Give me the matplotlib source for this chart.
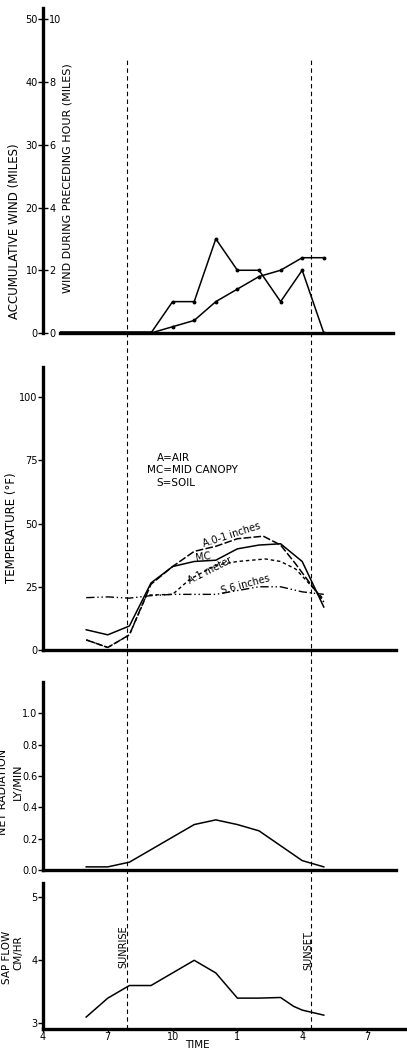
import matplotlib
matplotlib.use("Agg")
import matplotlib.pyplot as plt

# --- Data (time as hour of day, 24 h clock) -------------------------------
sunrise = 7.9
sunset = 16.4

wind_hours = [9, 10, 11, 12, 13, 14, 15, 16, 17]
wind_hourly = [0, 1, 1, 3, 2, 2, 1, 2, 0]      # miles during preceding hour
wind_cum = [0, 1, 2, 5, 7, 9, 10, 12, 12]      # accumulative miles

mc_hours = [6, 7, 8, 9, 10, 11, 12, 13, 14, 15, 16, 17]
mc_temp = [8, 6, 9.5, 26.5, 33, 35, 35.5, 40, 41.5, 42, 35, 17]

air01_hours = [6, 7, 7.6, 8, 9, 10, 11, 12, 13, 14.2, 15, 15.7, 17]
air01_temp = [4, 1, 4, 6, 26, 33, 39, 41, 44, 45, 41.5, 34, 19]

air1m_hours = [6, 7, 7.6, 8, 8.8, 10, 10.8, 12, 13, 14.3, 15, 15.7, 17]
air1m_temp = [4, 1, 4, 6, 21.7, 22, 28, 33.5, 35, 36, 35, 32, 20]

soil_hours = [6, 7, 8, 9, 10, 11, 12, 13, 14, 15, 16, 17]
soil_temp = [20.7, 21, 20.5, 21.5, 22, 22, 22, 23.5, 25, 25, 23, 22]

rad_hours = [6, 7, 8, 9, 10, 11, 12, 13, 14, 15, 16, 17]
net_rad = [0.02, 0.02, 0.05, 0.13, 0.21, 0.29, 0.32, 0.29, 0.25, 0.155, 0.06, 0.02]

sap_hours = [6, 7, 8, 9, 10, 11, 12, 13, 14, 15, 15.6, 16, 17]
sap_flow = [3.1, 3.4, 3.6, 3.6, 3.8, 4.0, 3.8, 3.4, 3.4, 3.41, 3.27, 3.21, 3.13]

time_ticks = [4, 7, 10, 13, 16, 19]
time_labels = ["4", "7", "10", "1", "4", "7"]

# --- Layout (pixels of the 407 x 1048 output) -----------------------------
W, H = 407, 1048
X_LEFT = 43        # pixel of the y spines
PX_HR = 21.6       # pixels per hour
HR0 = 4            # hour at the y spines

plt.rcParams["font.family"] = ["DejaVu Sans"]
fig = plt.figure(figsize=(W / 100, H / 100), dpi=100)


def panel(top, bottom, right, ylim):
    ax = fig.add_axes([X_LEFT / W, 1 - bottom / H,
                       (right - X_LEFT) / W, (bottom - top) / H])
    ax.set_xlim(HR0, HR0 + (right - X_LEFT) / PX_HR)
    ax.set_ylim(*ylim)
    for side in ("top", "right"):
        ax.spines[side].set_visible(False)
    for side in ("left", "bottom"):
        ax.spines[side].set_linewidth(2.4)
    ax.set_xticks([])
    ax.tick_params(axis="y", labelsize=7, width=1.0, length=3.5, pad=0.5)
    return ax


def ftext(px, py, s, **kw):
    fig.text(px / W, 1 - py / H, s, ha="center", va="center", **kw)


# --- Wind ---------------------------------------------------------------
ax1 = panel(8, 333, 396, (0, 51.8))
ax1.spines["bottom"].set_bounds(4.8, 20.2)
ax1.set_yticks([0, 10, 20, 30, 40, 50])
ax1.tick_params(axis="y", direction="inout", length=6.5)

# second scale drawn on the same spine, labels to its right
ax1b = ax1.twinx()
ax1b.set_ylim(0, 51.8 / 5)
for side in ("top", "left", "bottom", "right"):
    ax1b.spines[side].set_visible(False)
ax1b.spines["right"].set_position(("axes", 0))
ax1b.set_yticks([0, 2, 4, 6, 8, 10])
ax1b.tick_params(axis="y", length=0, pad=4.5, labelsize=7)

ax1b.plot(wind_hours, wind_hourly, color="k", lw=1.1, marker="o", ms=1.8)
ax1.plot(wind_hours, wind_cum, color="k", lw=1.1, marker="o", ms=1.8)
ax1.plot([4.8, 9], [0, 0], color="k", lw=2.6, solid_capstyle="butt")

ftext(15, 231, "ACCUMULATIVE WIND (MILES)", rotation=90, fontsize=8.5)
ftext(67, 178, "WIND DURING PRECEDING HOUR (MILES)", rotation=90, fontsize=8)

# --- Temperature ----------------------------------------------------------
ax2 = panel(367, 650, 396, (0, 111.9))
ax2.set_yticks([0, 25, 50, 75, 100])
ax2.plot(mc_hours, mc_temp, color="k", lw=1.1)
ax2.plot(air01_hours, air01_temp, color="k", lw=1.1, ls=(0, (5, 1.5)))
ax2.plot(air1m_hours, air1m_temp, color="k", lw=1.0, ls=(0, (2.5, 2)))
ax2.plot(soil_hours, soil_temp, color="k", lw=1.0, ls=(0, (6, 2, 1, 2, 1, 2)))

ax2.text(12.75, 45.5, "A.0-1 inches", fontsize=7, rotation=18, ha="center", va="center")
ax2.text(11.4, 36.8, "MC", fontsize=7, rotation=8, ha="center", va="center")
ax2.text(11.73, 31.6, "A.1 meter", fontsize=7, rotation=27, ha="center", va="center")
ax2.text(13.35, 26.0, "S.6 inches", fontsize=7, rotation=15, ha="center", va="center")
ax2.text(9.28, 76, "A=AIR", fontsize=7.5, va="center")
ax2.text(8.81, 71.1, "MC=MID CANOPY", fontsize=7.5, va="center")
ax2.text(9.23, 65.9, "S=SOIL", fontsize=7.5, va="center")

ftext(12, 528, "TEMPERATURE (°F)", rotation=90, fontsize=8.5)

# --- Net radiation --------------------------------------------------------
ax3 = panel(682, 870, 396, (0, 1.2))
ax3.set_yticks([0.0, 0.2, 0.4, 0.6, 0.8, 1.0])
ax3.set_yticklabels([f"{v:.1f}" for v in [0.0, 0.2, 0.4, 0.6, 0.8, 1.0]])
ax3.plot(rad_hours, net_rad, color="k", lw=1.1)
ftext(3, 792, "NET RADIATION", rotation=90, fontsize=8)
ftext(18, 782, "LY/MIN", rotation=90, fontsize=8)

# --- Sap flow -------------------------------------------------------------
ax4 = panel(883, 1029, 407, (2.91, 5.227))
ax4.set_yticks([3, 4, 5])
ax4.plot(sap_hours, sap_flow, color="k", lw=1.1)
ax4.set_xticks(time_ticks)
ax4.set_xticklabels(time_labels)
ax4.tick_params(axis="x", labelsize=7, length=2, width=1.0, pad=0)
ax4.text(sunrise - 0.2, 4.21, "SUNRISE", rotation=90, fontsize=7, ha="center", va="center")
ax4.text(sunset - 0.13, 4.16, "SUNSET", rotation=90, fontsize=7, ha="center", va="center")
ftext(7, 957, "SAP FLOW", rotation=90, fontsize=7.5)
ftext(18, 953, "CM/HR", rotation=90, fontsize=7.5)
fig.text(197 / W, 1 - 1040 / H, "TIME", ha="center", va="top", fontsize=7.5)

# --- Sunrise / sunset lines through all panels ----------------------------
ov = fig.add_axes([X_LEFT / W, 1 - 1029 / H, (396 - X_LEFT) / W, (1029 - 58) / H])
ov.set_xlim(HR0, HR0 + (396 - X_LEFT) / PX_HR)
ov.set_ylim(0, 1)
ov.axis("off")
for t in (sunrise, sunset):
    ov.axvline(t, color="k", lw=0.8, ls=(0, (4, 3)))

fig.savefig("out.png", dpi=100)
